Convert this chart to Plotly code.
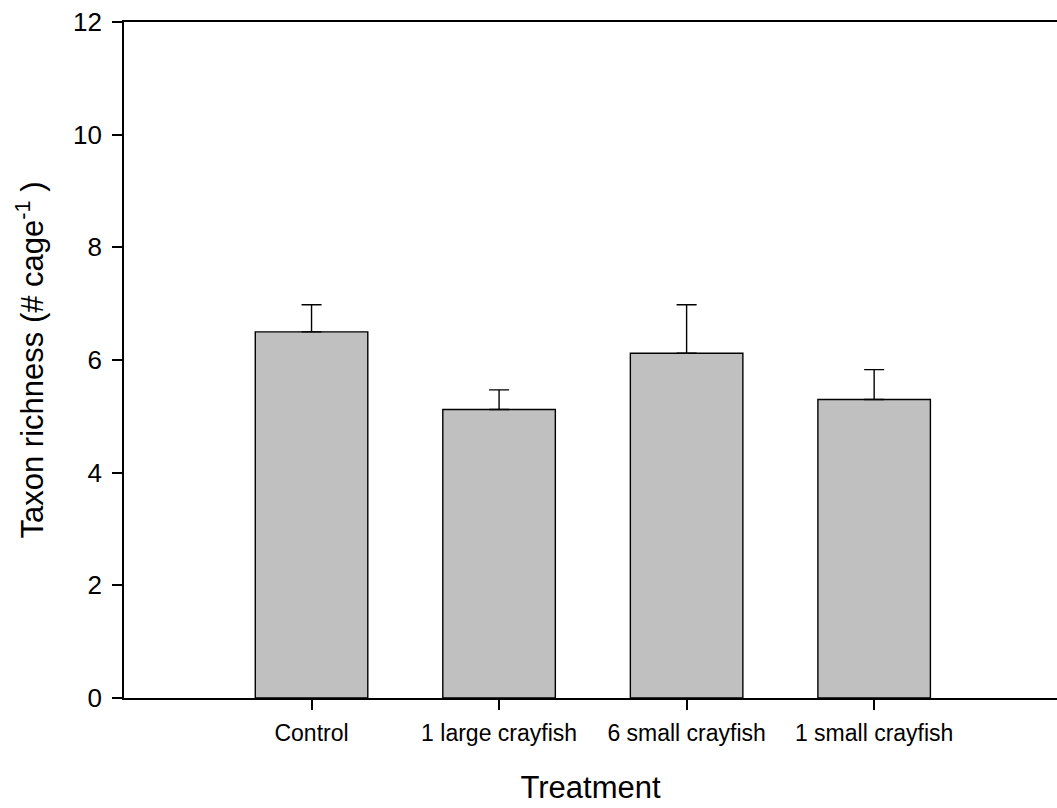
import plotly.graph_objects as go

categories = ["Control", "1 large crayfish", "6 small crayfish", "1 small crayfish"]
means = [6.5, 5.12, 6.12, 5.3]
sem = [0.48, 0.35, 0.86, 0.53]
y_ticks = [0, 2, 4, 6, 8, 10, 12]

xpos = list(range(len(categories)))

fig = go.Figure()
fig.add_trace(go.Bar(
    x=xpos, y=means, width=0.6,
    marker=dict(color="#C0C0C0", line=dict(color="black", width=1.4)),
    error_y=dict(type="data", symmetric=False, array=sem, arrayminus=[0]*len(sem),
                 color="black", thickness=1.4, width=10),
    showlegend=False,
))

fig.update_layout(
    width=1057, height=808,
    margin=dict(l=124, r=0, t=22, b=110, autoexpand=False),
    paper_bgcolor="white", plot_bgcolor="white",
    font=dict(family="Liberation Sans, Arial, sans-serif", color="black"),
    xaxis=dict(
        range=[-1, 3.975], tickmode="array", tickvals=xpos, ticktext=categories,
        ticks="outside", ticklen=10, tickwidth=1.6, tickcolor="black",
        showline=True, linecolor="black", linewidth=1.6, mirror=True,
        showgrid=False, zeroline=False, tickfont=dict(size=23),
        ticklabelstandoff=4,
        title=dict(text="Treatment", font=dict(size=31), standoff=31),
    ),
    yaxis=dict(
        range=[0, 12], tickmode="array", tickvals=y_ticks,
        ticks="outside", ticklen=10, tickwidth=1.6, tickcolor="black",
        showline=True, linecolor="black", linewidth=1.6,
        showgrid=False, zeroline=False, tickfont=dict(size=26),
        ticklabelstandoff=5,
        title=dict(text="Taxon richness (# cage<sup>-1</sup> )", font=dict(size=31), standoff=20),
    ),
)

fig.write_html("out.html", config={"displayModeBar": False},
               post_script="document.body.style.margin='0';")
